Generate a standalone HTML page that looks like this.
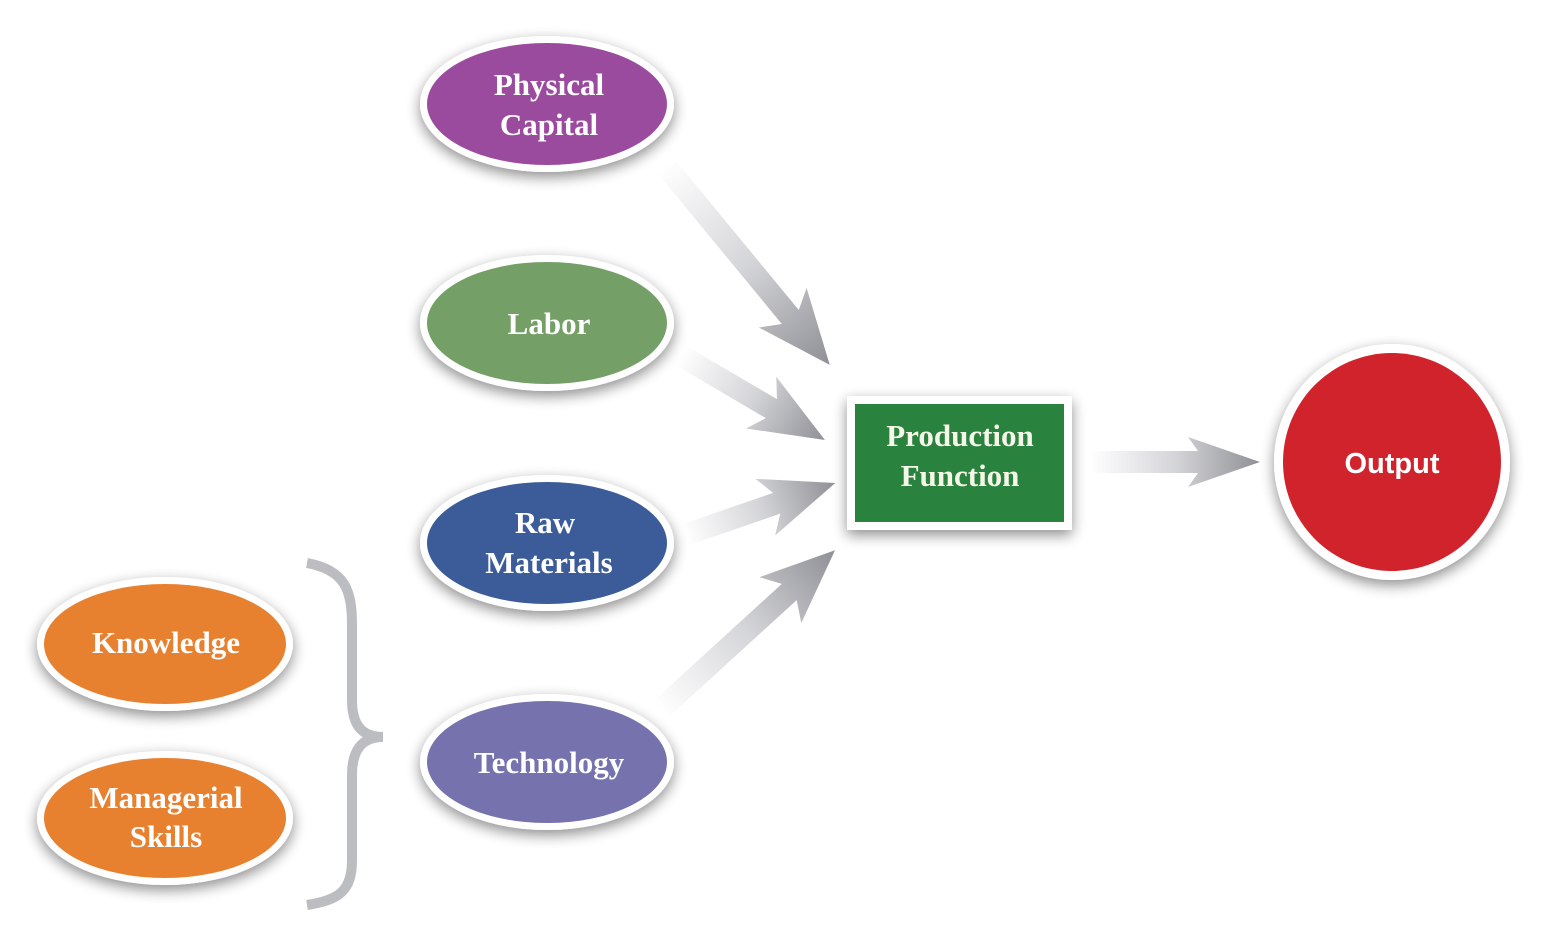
<!DOCTYPE html>
<html><head><meta charset="utf-8"><style>
html,body{margin:0;padding:0;background:#fff;}
svg{display:block;}
text{font-family:"Liberation Serif",serif;font-weight:bold;fill:#fff;text-anchor:middle;font-size:31px;}
</style></head><body>
<svg width="1549" height="925" viewBox="0 0 1549 925" xmlns="http://www.w3.org/2000/svg">
<defs>
<filter id="sh" x="-30%" y="-30%" width="160%" height="160%"><feGaussianBlur in="SourceAlpha" stdDeviation="7"/><feOffset dx="0" dy="5"/><feComponentTransfer><feFuncA type="linear" slope="0.45"/></feComponentTransfer><feMerge><feMergeNode/><feMergeNode in="SourceGraphic"/></feMerge></filter>
<linearGradient id="ag" gradientUnits="objectBoundingBox" x1="0" y1="0" x2="1" y2="0"><stop offset="0" stop-color="#ffffff"/><stop offset="0.5" stop-color="#d4d5d8"/><stop offset="1" stop-color="#8f9096"/></linearGradient>
</defs>

<g transform="translate(665,165) rotate(50.5)"><polygon fill="url(#ag)" points="0,-11 197,-11 185,-31 259,0 185,31 197,11 0,11"/></g>
<g transform="translate(680,355) rotate(30.4)"><polygon fill="url(#ag)" points="0,-11 106,-11 94,-30 168,0 94,30 106,11 0,11"/></g>
<g transform="translate(685,535) rotate(-19.1)"><polygon fill="url(#ag)" points="0,-11 97,-11 85,-30 159,0 85,30 97,11 0,11"/></g>
<g transform="translate(660,710) rotate(-42.4)"><polygon fill="url(#ag)" points="0,-11 175,-11 163,-31 237,0 163,31 175,11 0,11"/></g>
<g transform="translate(1090,462)"><polygon fill="url(#ag)" points="0,-11 108,-11 98,-25 170,0 98,25 108,11 0,11"/></g>

<path d="M307,563 C345,570 352,590 352,625 L352,700 C352,725 362,737 383,737 C362,737 352,750 352,775 L352,860 C352,890 340,900 307,905" fill="none" stroke="#bcbdc1" stroke-width="10"/>

<g filter="url(#sh)">
<ellipse cx="547" cy="104" rx="127" ry="68" fill="#fff"/>
<ellipse cx="547" cy="323" rx="127" ry="68" fill="#fff"/>
<ellipse cx="547" cy="543" rx="127" ry="68" fill="#fff"/>
<ellipse cx="547" cy="762" rx="127" ry="68" fill="#fff"/>
<ellipse cx="165" cy="644" rx="128" ry="67" fill="#fff"/>
<ellipse cx="165" cy="818" rx="128" ry="67" fill="#fff"/>
<rect x="847" y="396" width="225" height="134" fill="#fff"/>
<circle cx="1392" cy="462" r="118" fill="#fff"/>
</g>
<ellipse cx="547" cy="104" rx="120" ry="61" fill="#9a4b9e"/>
<ellipse cx="547" cy="323" rx="120" ry="61" fill="#74a067"/>
<ellipse cx="547" cy="543" rx="120" ry="61" fill="#3c5c99"/>
<ellipse cx="547" cy="762" rx="120" ry="61" fill="#7572ad"/>
<ellipse cx="165" cy="644" rx="121" ry="60" fill="#e8812f"/>
<ellipse cx="165" cy="818" rx="121" ry="60" fill="#e8812f"/>
<rect x="855" y="404" width="209" height="118" fill="#2a823f"/>
<circle cx="1392" cy="462" r="109" fill="#d1232c"/>

<text x="549" y="95">Physical</text>
<text x="549" y="135">Capital</text>
<text x="549" y="334">Labor</text>
<text x="545" y="533">Raw</text>
<text x="549" y="573">Materials</text>
<text x="549" y="773">Technology</text>
<text x="166" y="653">Knowledge</text>
<text x="166" y="808">Managerial</text>
<text x="166" y="847">Skills</text>
<text x="960" y="446" style="fill:#f5f8e8">Production</text>
<text x="960" y="486" style="fill:#f5f8e8">Function</text>
<text x="1392" y="473" style="font-family:'Liberation Sans',sans-serif;font-size:29px">Output</text>
</svg>
</body></html>
